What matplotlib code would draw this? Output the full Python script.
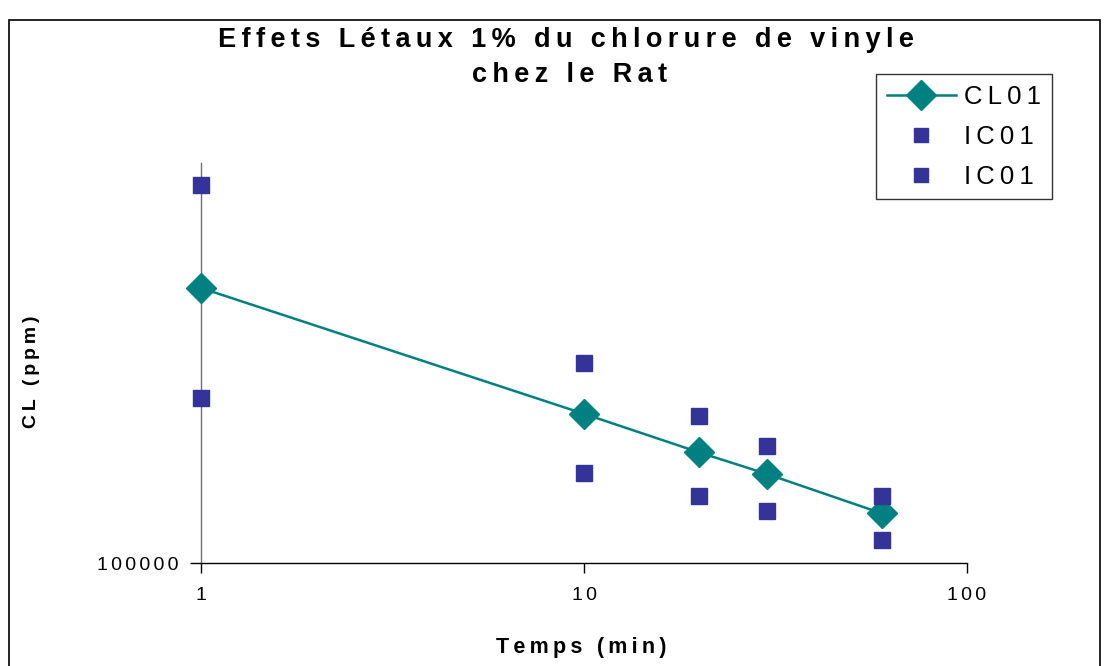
import numpy as np
import matplotlib.pyplot as plt
from matplotlib.patches import Rectangle
from matplotlib.lines import Line2D
from matplotlib.ticker import FixedLocator, NullLocator, FixedFormatter

plt.rcParams['font.family'] = ['Liberation Sans', 'DejaVu Sans']

# Données (échelle log-log)
temps = [1, 10, 20, 30, 60]
cl01 = [487000, 236000, 189000, 167000, 133000]
ic01_haut = [881000, 316000, 233000, 196000, 147000]
ic01_bas = [258000, 168000, 147000, 135000, 114000]

teal = '#008080'
navy = '#333399'


def espace(s, sp='\u2009'):
    # imite l'espacement des lettres d'Excel
    return sp.join(s)


fig = plt.figure(figsize=(11.09, 6.66), dpi=100)
ax = fig.add_axes([201/1109, 1-563/666, 766/1109, 400/666])

ax.plot(temps, cl01, color=teal, lw=1.8, marker='D', ms=15, mec=teal, mfc=teal, zorder=3)
ax.plot(temps, ic01_haut, ls='none', marker='s', ms=12, color=navy, zorder=3)
ax.plot(temps, ic01_bas, ls='none', marker='s', ms=12, color=navy, zorder=3)

ax.set_xscale('log')
ax.set_yscale('log')
ax.set_xlim(1, 100)
ax.set_ylim(1e5, 1e6)

ax.xaxis.set_major_locator(FixedLocator([1, 10, 100]))
ax.xaxis.set_major_formatter(FixedFormatter([espace(t, '\u2006') for t in ['1', '10', '100']]))
ax.xaxis.set_minor_locator(NullLocator())
ax.yaxis.set_major_locator(FixedLocator([1e5]))
ax.yaxis.set_major_formatter(FixedFormatter([espace('100000', '\u2006')]))
ax.yaxis.set_minor_locator(NullLocator())
ax.tick_params(axis='x', direction='out', length=7, width=1, pad=10, labelsize=14)
ax.tick_params(axis='y', direction='out', length=8, width=1, pad=8, labelsize=14)

for s in ['top', 'right']:
    ax.spines[s].set_visible(False)
ax.spines['left'].set_color('#707070')
ax.spines['left'].set_linewidth(1)
ax.spines['bottom'].set_color('black')
ax.spines['bottom'].set_linewidth(1)
for l in ax.lines:
    l.set_clip_on(False)

# cadre extérieur
fig.patches.append(Rectangle((9/1109, -0.05), 1091/1109, 1-20/666+0.05,
                             transform=fig.transFigure, fill=False, ec='black', lw=1.2))

fig.text(566/1109, 1-40/666, espace('Effets Létaux 1% du chlorure de vinyle'), ha='center',
         va='center', fontsize=19.5, fontweight='bold')
fig.text(570/1109, 1-75/666, espace('chez le Rat'), ha='center', va='center',
         fontsize=19.5, fontweight='bold')
fig.text(32/1109, 1-372/666, espace('CL (ppm)'), ha='center', va='center', rotation=90,
         fontsize=14, fontweight='bold')
fig.text(581/1109, 1-648/666, espace('Temps (min)'), ha='center', va='center',
         fontsize=15.5, fontweight='bold')

handles = [Line2D([], [], color=teal, lw=1.8, marker='D', ms=15),
           Line2D([], [], ls='none', marker='s', ms=10, color=navy),
           Line2D([], [], ls='none', marker='s', ms=10, color=navy)]
leg = fig.legend(handles, [espace('CL01'), espace('IC01'), espace('IC01')], loc='upper left',
                 bbox_to_anchor=(876/1109, 1-74/666), fontsize=18.5, frameon=True,
                 fancybox=False, edgecolor='black', handlelength=2.7, borderpad=0.42,
                 labelspacing=0.62, handletextpad=0.3, borderaxespad=0)
leg.get_frame().set_linewidth(1)

fig.savefig('out.png', dpi=100)
